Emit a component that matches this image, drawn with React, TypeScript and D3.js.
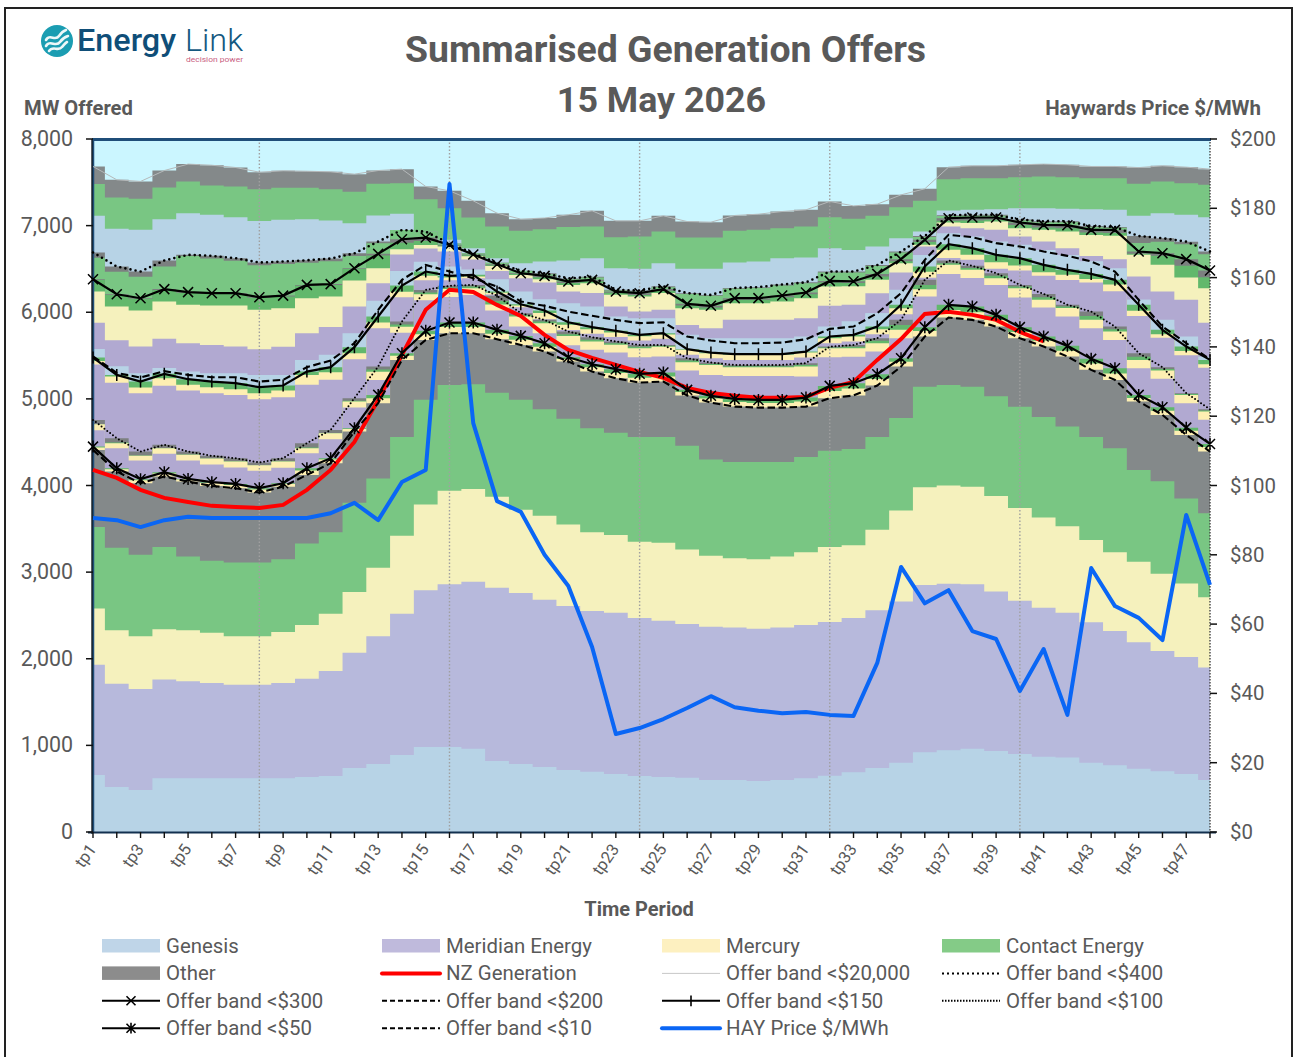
import React from "react";
import * as d3 from "d3";

const periods = d3.range(1, 49).map((d) => `tp${d}`);

// Cumulative offer band totals (MW)
const band20000 = [7683,7529,7510,7636,7710,7697,7671,7617,7633,7628,7621,7594,7636,7652,7452,7402,7286,7144,7075,7088,7125,7171,7055,7055,7113,7047,7040,7117,7132,7163,7182,7279,7228,7248,7355,7425,7675,7690,7690,7702,7710,7702,7683,7683,7670,7690,7675,7652];
const band400 = [6690,6528,6470,6597,6663,6651,6624,6574,6586,6600,6620,6680,6816,6950,6930,6795,6680,6570,6480,6450,6390,6410,6260,6250,6300,6220,6200,6280,6290,6320,6345,6470,6470,6545,6700,6880,7120,7125,7125,7070,7050,7050,6995,6985,6880,6855,6815,6700];
const band300 = [6381,6208,6162,6267,6232,6220,6220,6174,6192,6316,6325,6509,6674,6843,6862,6778,6667,6554,6451,6420,6354,6374,6239,6220,6267,6097,6074,6163,6163,6193,6228,6362,6358,6443,6613,6836,7086,7094,7094,7036,7009,7005,6951,6951,6701,6682,6613,6481];
const band200 = [5490,5300,5246,5320,5277,5250,5250,5200,5220,5366,5443,5643,6028,6374,6547,6470,6393,6297,6124,6074,6008,5959,5912,5874,5885,5720,5673,5643,5643,5650,5689,5808,5835,5989,6220,6605,6894,6867,6798,6759,6701,6651,6586,6470,6143,5835,5643,5458];
const band150 = [5477,5277,5200,5289,5227,5200,5181,5135,5154,5315,5366,5597,5951,6308,6470,6420,6432,6239,6093,6020,5885,5828,5785,5739,5758,5574,5535,5516,5516,5516,5546,5720,5739,5835,6086,6528,6786,6740,6663,6624,6547,6490,6443,6374,6086,5797,5604,5450];
const band100 = [4757,4546,4392,4469,4392,4342,4315,4265,4315,4488,4642,5008,5373,5893,6258,6305,6316,6190,5989,5912,5777,5712,5662,5623,5623,5469,5419,5392,5392,5392,5412,5604,5623,5700,5912,6374,6597,6536,6451,6316,6212,6086,6008,5835,5527,5366,5066,4881];
const band50 = [4449,4199,4073,4154,4076,4038,4018,3969,4026,4199,4315,4661,5046,5527,5785,5881,5881,5797,5727,5643,5481,5400,5343,5289,5304,5104,5035,5000,4988,4988,5015,5150,5181,5285,5469,5828,6086,6066,5970,5828,5720,5612,5462,5354,5046,4904,4668,4480];
const band10 = [4411,4161,4026,4103,4045,3995,3969,3918,3987,4122,4257,4622,4950,5450,5681,5758,5758,5689,5623,5546,5431,5315,5238,5188,5200,5039,4957,4911,4899,4899,4911,5008,5039,5154,5373,5720,5939,5912,5835,5700,5604,5489,5335,5219,4969,4815,4584,4392];
const nzGeneration = [4180,4088,3950,3857,3810,3765,3753,3741,3776,3950,4180,4503,4988,5508,6028,6259,6235,6085,5958,5739,5566,5473,5393,5312,5243,5127,5069,5035,5012,5012,5023,5127,5196,5450,5690,5981,6005,5970,5912,5774,5665];
const hayPrice = [90.6,90,88,90,91,90.6,90.6,90.6,90.6,90.6,92,95,90,101,104.5,187,118,95.5,92.4,80,71,53.4,28.3,30,32.6,35.8,39.2,36,35,34.3,34.6,33.8,33.5,48.8,76.5,66,69.8,58,55.7,40.7,52.8,33.8,76.2,65.2,61.8,55.4,91.5,71.3];

// Band <$10: cumulative company tops (MW)
const genesisTop10 = [658,520,485,620,620,620,620,620,620,635,647,740,785,890,980,980,960,820,785,750,715,695,670,647,635,625,600,600,590,600,620,650,690,740,800,920,945,960,935,900,870,860,800,770,730,700,670,600];
const meridianTop10 = [1930,1710,1650,1760,1740,1720,1700,1700,1720,1770,1860,2070,2260,2520,2790,2860,2890,2820,2760,2680,2610,2550,2530,2470,2440,2400,2370,2360,2345,2360,2390,2425,2470,2560,2660,2850,2865,2860,2775,2670,2590,2530,2420,2320,2190,2090,2020,1900];
const mercuryTop10 = [2580,2330,2260,2340,2330,2300,2260,2260,2310,2390,2520,2770,3050,3420,3780,3940,3960,3870,3720,3650,3550,3460,3430,3350,3340,3260,3190,3160,3150,3180,3230,3290,3310,3490,3710,3980,4000,3985,3880,3740,3630,3530,3370,3230,3120,2980,2870,2710];
const contactTop10 = [3520,3280,3200,3290,3180,3130,3110,3110,3150,3330,3460,3800,4080,4560,4990,5160,5170,5070,4990,4880,4770,4660,4610,4560,4560,4460,4300,4270,4270,4270,4330,4400,4420,4560,4780,5140,5160,5140,5030,4910,4790,4680,4560,4430,4180,4050,3850,3680];

// Band thicknesses (MW)
const contact50 = [10,10,12,15,8,10,12,15,10,25,15,10,40,30,40,50,50,45,45,40,20,35,45,45,45,25,30,35,35,35,45,60,60,55,40,45,60,65,60,55,50,55,55,60,35,40,35,35];
const other100 = [50,50,45,35,35,31,35,31,35,50,35,30,35,35,30,20,20,60,20,20,30,30,20,20,10,25,15,15,15,15,20,10,20,30,60,60,30,25,30,20,40,20,50,30,40,20,10,15];
const contact100 = [0,8,5,3,3,0,3,0,3,8,3,8,25,25,20,18,18,40,18,18,20,20,18,18,10,21,12,12,12,12,18,10,18,28,55,48,20,21,28,18,29,18,46,28,37,18,10,12];
const mercury100 = [69,58,54,65,65,69,69,65,73,58,69,69,96,70,70,90,80,70,115,115,108,96,88,104,115,96,115,100,100,100,115,104,100,96,96,85,104,96,77,108,88,96,96,96,96,96,96,96];
const contact150 = [40,20,70,50,65,65,70,70,58,38,60,70,70,70,50,20,20,15,15,30,30,25,20,15,15,8,8,8,8,8,10,20,20,30,40,60,65,75,85,85,85,58,60,54,70,50,50,50];
const mercury150 = [40,70,65,88,65,70,65,70,77,115,85,70,65,65,50,30,20,20,20,70,60,50,50,50,50,58,58,58,58,58,58,58,58,60,70,70,96,60,77,58,40,60,40,77,60,40,50,40];
const other300 = [10,10,10,10,10,10,10,10,10,10,10,10,20,40,40,10,10,10,10,15,15,15,15,20,20,20,20,20,20,20,20,20,20,30,25,25,30,35,25,30,30,35,30,35,25,30,77,77];
const contact300 = [132,132,132,132,136,132,132,136,136,144,132,132,145,75,45,10,10,10,10,23,23,23,23,18,26,30,26,38,38,49,45,45,38,39,21,33,20,30,21,35,28,38,28,34,13,105,135,127];
const mercury300 = [360,390,415,430,443,455,473,455,443,404,354,300,173,60,40,58,38,58,38,38,77,115,135,173,193,193,212,193,193,212,231,223,212,154,108,20,46,58,96,96,135,193,243,270,250,308,258,397];
const meridian300 = [304,300,308,339,327,327,308,296,327,308,320,308,204,192,154,173,115,96,154,193,135,154,115,77,96,115,115,212,212,212,212,239,193,231,200,96,77,96,135,96,96,77,65,104,270,327,424,393];
const other400 = [60,60,60,70,15,30,30,30,30,30,30,30,20,0,0,0,0,0,0,10,10,10,10,10,10,10,10,10,10,10,10,10,10,10,10,10,10,10,10,10,10,10,10,10,80,40,30,30];

// Band <$20,000: cumulative company tops (MW)
const contactTop20000 = [7480,7325,7309,7440,7509,7463,7452,7421,7436,7436,7421,7390,7483,7490,7305,7201,7094,6990,6940,6959,6983,6990,6867,6875,6932,6863,6863,6940,6951,6971,6990,7098,7080,7113,7213,7286,7536,7548,7548,7559,7567,7559,7548,7548,7483,7509,7490,7471];
const genesisTop20000 = [7113,6963,6951,7075,7144,7125,7098,7052,7067,7075,7060,7028,7117,7136,6930,6836,6740,6624,6566,6586,6597,6624,6509,6501,6566,6501,6501,6574,6586,6624,6632,6740,6720,6759,6855,6932,7174,7182,7190,7201,7201,7194,7190,7182,7113,7144,7125,7098];

const mwTicks = [0,1000,2000,3000,4000,5000,6000,7000,8000];
const priceTicks = [0,20,40,60,80,100,120,140,160,180,200];
const gridPeriods = [8,16,24,32,40];

const C = {
  sky: "#CBF6FF", genesis: "#B7D3E6", meridianLow: "#B7B9DC", meridian: "#B1A9D1",
  mercuryLow: "#F5F1BD", mercury: "#FDEFB2", contact: "#79C683", contactDark: "#62B86C",
  other: "#84898A", otherDark: "#7C8080",
};
const TEXT = "#595959";
const FONT = "Roboto, 'Noto Sans', sans-serif";

const legend: { label: string; kind: string; color?: string; dash?: string; marker?: string }[] = [
  { label: "Genesis", kind: "box", color: "#BFD5E8" },
  { label: "Meridian Energy", kind: "box", color: "#BFBADC" },
  { label: "Mercury", kind: "box", color: "#FDF0C0" },
  { label: "Contact Energy", kind: "box", color: "#84CB87" },
  { label: "Other", kind: "box", color: "#8C8C8C" },
  { label: "NZ Generation", kind: "red" },
  { label: "Offer band <$20,000", kind: "thin" },
  { label: "Offer band <$400", kind: "line", dash: "2 3" },
  { label: "Offer band <$300", kind: "line", marker: "x" },
  { label: "Offer band <$200", kind: "line", dash: "5 3" },
  { label: "Offer band <$150", kind: "line", marker: "+" },
  { label: "Offer band <$100", kind: "line", dash: "1.5 1.5" },
  { label: "Offer band <$50", kind: "line", marker: "*" },
  { label: "Offer band <$10", kind: "line", dash: "5 3" },
  { label: "HAY Price $/MWh", kind: "blue" },
];

function markerPath(kind: string, cx: number, cy: number, r: number) {
  const p = d3.path();
  if (kind === "x" || kind === "*") {
    p.moveTo(cx - r, cy - r); p.lineTo(cx + r, cy + r);
    p.moveTo(cx - r, cy + r); p.lineTo(cx + r, cy - r);
  }
  if (kind === "+" || kind === "*") {
    p.moveTo(cx, cy - r * 1.2); p.lineTo(cx, cy + r * 1.2);
  }
  return p.toString();
}

export default function App() {
  const x = d3.scaleLinear().domain([0, 47]).range([93, 1210]);
  const y = d3.scaleLinear().domain([0, 8000]).range([832, 139]);
  const yPrice = d3.scaleLinear().domain([0, 200]).range([832, 139]);

  const sub = (a: number[], ...b: number[][]) => a.map((v, i) => b.reduce((s, arr) => s - arr[i], v));

  const layers: { color: string; top: number[] }[] = [
    { color: C.other, top: band20000 },
    { color: C.contact, top: contactTop20000 },
    { color: C.genesis, top: genesisTop20000 },
    { color: C.otherDark, top: band400 },
    { color: C.contact, top: sub(band400, other400) },
    { color: C.otherDark, top: band300 },
    { color: C.contactDark, top: sub(band300, other300) },
    { color: C.mercuryLow, top: sub(band300, other300, contact300) },
    { color: C.meridian, top: sub(band300, other300, contact300, mercury300) },
    { color: C.genesis, top: sub(band300, other300, contact300, mercury300, meridian300) },
    { color: C.genesis, top: band200 },
    { color: C.contactDark, top: band150 },
    { color: C.mercury, top: sub(band150, contact150) },
    { color: C.meridian, top: sub(band150, contact150, mercury150) },
    { color: C.otherDark, top: band100 },
    { color: C.contactDark, top: sub(band100, other100) },
    { color: C.mercury, top: sub(band100, other100, contact100) },
    { color: C.meridian, top: sub(band100, other100, contact100, mercury100) },
    { color: C.contactDark, top: band50 },
    { color: C.mercury, top: sub(band50, contact50) },
    { color: C.other, top: band10 },
    { color: C.contact, top: contactTop10 },
    { color: C.mercuryLow, top: mercuryTop10 },
    { color: C.meridianLow, top: meridianTop10 },
    { color: C.genesis, top: genesisTop10 },
  ];

  const area = d3.area<number>().curve(d3.curveStep).x((_, i) => x(i)).y0(y(0)).y1((d) => y(d));
  const line = d3.line<number>().x((_, i) => x(i)).y((d) => y(d));
  const priceLine = d3.line<number>().x((_, i) => x(i)).y((d) => yPrice(d));

  const offerLines: { data: number[]; dash?: string; marker?: string; w: number; cap?: string }[] = [
    { data: band400, dash: "0 5.2", w: 2.6, cap: "round" },
    { data: band300, marker: "x", w: 2.2 },
    { data: band200, dash: "7.5 3.5", w: 2.1 },
    { data: band150, marker: "+", w: 2.2 },
    { data: band100, dash: "0 3.6", w: 2, cap: "round" },
    { data: band50, marker: "*", w: 2.2 },
    { data: band10, dash: "7.5 3.5", w: 2.1 },
  ];

  return (
    <svg width={1294} height={1057} style={{ position: "absolute", left: 0, top: 0, display: "block" }} fontFamily={FONT}>
      <rect width={1294} height={1057} fill="#fff" />
      <rect x={5} y={8} width={1287} height={1060} fill="#fff" stroke="#222" strokeWidth={2} />

      {/* Logo */}
      <circle cx={57} cy={41} r={16} fill="#1B9DB2" />
      <g fill="none" stroke="#fff" strokeWidth={2.6} strokeLinecap="round" opacity={0.92}>
        <path d="M46 40 C50 33 55 42 59 36 C61 33 63 31 66 30" />
        <path d="M46 46 C50 39 56 48 60 42 C62 39 65 37 68 36" />
        <path d="M49 51 C53 45 58 52 62 47 C64 45 65 43 67 42" />
      </g>
      <text x={77} y={51} fontSize={31.5} fontWeight={500} fill="#0F4E78" textLength={99} lengthAdjust="spacingAndGlyphs">Energy</text>
      <text x={185} y={51} fontSize={32} fontWeight={300} fill="#14587F" textLength={58} lengthAdjust="spacingAndGlyphs">Link</text>
      <text x={186} y={61.5} fontSize={8} fill="#C9607F" textLength={57} lengthAdjust="spacingAndGlyphs">decision power</text>

      {/* Titles */}
      <text x={665.5} y={62} textAnchor="middle" fontSize={37.4} fontWeight={700} fill={TEXT}>Summarised Generation Offers</text>
      <text x={661.5} y={112} textAnchor="middle" fontSize={35.8} fontWeight={700} fill={TEXT}>15 May 2026</text>
      <text x={24} y={115} fontSize={20.2} fontWeight={700} fill={TEXT}>MW Offered</text>
      <text x={1261} y={115} textAnchor="end" fontSize={20.5} fontWeight={700} fill={TEXT}>Haywards Price $/MWh</text>
      <text x={639} y={916} textAnchor="middle" fontSize={20} fontWeight={700} fill={TEXT}>Time Period</text>

      {/* Plot */}
      <rect x={93} y={139} width={1117} height={693} fill={C.sky} />
      {layers.map((l, i) => (
        <path key={i} d={area(l.top) as string} fill={l.color} />
      ))}
      {gridPeriods.map((p) => (
        <line key={p} x1={x(p - 1)} x2={x(p - 1)} y1={139} y2={832} stroke="#A0A0A0" strokeWidth={1.4} strokeDasharray="1.5 2" />
      ))}
      <line x1={1210} x2={1210} y1={139} y2={832} stroke="#444" strokeWidth={1.4} strokeDasharray="1.5 1.5" />

      {/* Frame and axes */}
      <line x1={92} x2={1211} y1={139.5} y2={139.5} stroke="#1F4E79" strokeWidth={3} />
      <line x1={93} x2={93} y1={139} y2={832} stroke="#1F4E79" strokeWidth={2.5} />
      <line x1={92} x2={92} y1={139} y2={834} stroke="#111" strokeWidth={1.2} />
      <line x1={88} x2={1216} y1={832.5} y2={832.5} stroke="#12304F" strokeWidth={2} />
      {mwTicks.map((t) => (
        <g key={t}>
          <line x1={86} x2={93} y1={y(t)} y2={y(t)} stroke="#111" strokeWidth={1.5} />
          <text x={73} y={y(t) + 7} textAnchor="end" fontSize={21.4} fill={TEXT}>{d3.format(",")(t)}</text>
        </g>
      ))}
      {priceTicks.map((t) => (
        <g key={t}>
          <line x1={1210} x2={1217} y1={yPrice(t)} y2={yPrice(t)} stroke="#111" strokeWidth={1.5} />
          <text x={1230} y={yPrice(t) + 7} fontSize={20.4} fill={TEXT}>{`$${t}`}</text>
        </g>
      ))}
      {periods.map((p, i) => (
        <g key={p}>
          <line x1={x(i)} x2={x(i)} y1={832} y2={838} stroke="#111" strokeWidth={1.4} />
          {i % 2 === 0 && (
            <text transform={`translate(${x(i) + 4},849) rotate(-55)`} textAnchor="end" fontSize={16.6} fill={TEXT}>{p}</text>
          )}
        </g>
      ))}

      {/* Lines */}
      <path d={line(band20000) as string} fill="none" stroke="#B5B9BA" strokeWidth={1} />
      <path d={line(nzGeneration) as string} fill="none" stroke="#FF0000" strokeWidth={4} />
      {offerLines.map((l, i) => (
        <g key={i}>
          <path d={line(l.data) as string} fill="none" stroke="#000" strokeWidth={l.w} strokeDasharray={l.dash} strokeLinecap={(l.cap as any) || "butt"} />
          {l.marker && <path d={l.data.map((v, k) => markerPath(l.marker as string, x(k), y(v), 5)).join("")} fill="none" stroke="#000" strokeWidth={1.5} />}
        </g>
      ))}
      <path d={priceLine(hayPrice) as string} fill="none" stroke="#0A66F5" strokeWidth={4} strokeLinejoin="round" />

      {/* Legend */}
      {legend.map((item, i) => {
        const col = i % 4, row = Math.floor(i / 4);
        const lx = 102 + col * 280, ly = 946 + row * 27.4;
        return (
          <g key={item.label}>
            {item.kind === "box" && <rect x={lx} y={ly - 7} width={58} height={13.5} fill={item.color} />}
            {item.kind === "red" && <line x1={lx} x2={lx + 58} y1={ly} y2={ly} stroke="#FF0000" strokeWidth={4} strokeLinecap="round" />}
            {item.kind === "blue" && <line x1={lx} x2={lx + 58} y1={ly} y2={ly} stroke="#0A66F5" strokeWidth={4} strokeLinecap="round" />}
            {item.kind === "thin" && <line x1={lx} x2={lx + 58} y1={ly} y2={ly} stroke="#C8C8C8" strokeWidth={1} />}
            {item.kind === "line" && (
              <>
                <line x1={lx} x2={lx + 58} y1={ly} y2={ly} stroke="#000" strokeWidth={2} strokeDasharray={item.dash} />
                {item.marker && <path d={markerPath(item.marker, lx + 29, ly, 4.5)} fill="none" stroke="#000" strokeWidth={1.6} />}
              </>
            )}
            <text x={lx + 64} y={ly + 7} fontSize={20.4} fill={TEXT}>{item.label}</text>
          </g>
        );
      })}
    </svg>
  );
}
